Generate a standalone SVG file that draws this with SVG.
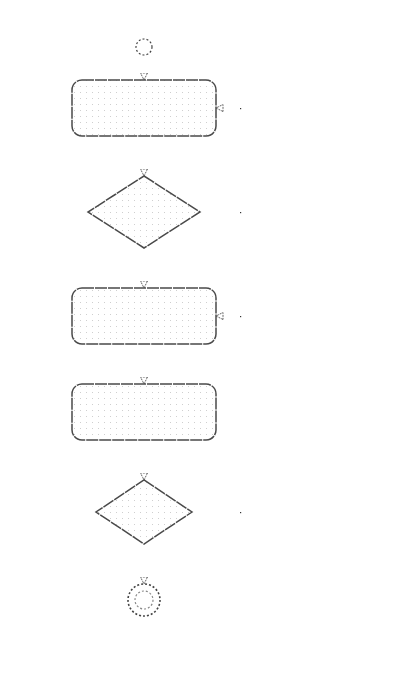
<svg xmlns="http://www.w3.org/2000/svg" width="402" height="696" viewBox="0 0 402 696">
<defs>
<pattern id="dots" x="0" y="0" width="6" height="6" patternUnits="userSpaceOnUse">
<rect x="2" y="2" width="1" height="1" fill="#cfcfcf"/>
</pattern>
<marker id="arr" viewBox="0 0 8 8" refX="7.5" refY="4" markerWidth="8" markerHeight="8" markerUnits="userSpaceOnUse" orient="auto">
<path d="M0.5,0.5 L7.5,4 L0.5,7.5 Z" fill="#fff" stroke="#666" stroke-width="1" stroke-dasharray="2 1"/>
</marker>
</defs>
<style>
.shape{fill:url(#dots);stroke:#4a4a4a;stroke-width:1.5;stroke-dasharray:12 1}
.circ{fill:#fff;stroke:#444;stroke-width:1.2;stroke-dasharray:2 2}
.conn{fill:none;stroke:#fff;stroke-width:1}
.dot{fill:#333}
</style>
<rect width="402" height="696" fill="#fff"/>
<g id="connectors">
<path class="conn" d="M144,56 L144,80" marker-end="url(#arr)"/>
<path class="conn" d="M144,136 L144,176" marker-end="url(#arr)"/>
<path class="conn" d="M240,108 L216,108" marker-end="url(#arr)"/>
<path class="conn" d="M144,248 L144,288" marker-end="url(#arr)"/>
<path class="conn" d="M240,316 L216,316" marker-end="url(#arr)"/>
<path class="conn" d="M144,344 L144,384" marker-end="url(#arr)"/>
<path class="conn" d="M144,440 L144,480" marker-end="url(#arr)"/>
<path class="conn" d="M144,544 L144,584" marker-end="url(#arr)"/>
</g>
<g id="start"><circle class="circ" cx="144" cy="47" r="8"/></g>
<g id="step1"><rect class="shape" x="72" y="80" width="144" height="56" rx="10"/></g>
<g id="decision1"><polygon class="shape" points="144,176 200,212 144,248 88,212"/></g>
<g id="step2"><rect class="shape" x="72" y="288" width="144" height="56" rx="10"/></g>
<g id="step3"><rect class="shape" x="72" y="384" width="144" height="56" rx="10"/></g>
<g id="decision2"><polygon class="shape" points="144,480 192,512 144,544 96,512"/></g>
<g id="end">
<circle class="circ" cx="144" cy="600" r="16" style="stroke-width:1.6"/>
<circle class="circ" cx="144" cy="600" r="9" style="fill:none;stroke:#888"/>
</g>
<g id="marks">
<rect class="dot" x="240" y="108" width="1.2" height="1.2"/>
<rect class="dot" x="240" y="212" width="1.2" height="1.2"/>
<rect class="dot" x="240" y="316" width="1.2" height="1.2"/>
<rect class="dot" x="240" y="512" width="1.2" height="1.2"/>
</g>
</svg>
